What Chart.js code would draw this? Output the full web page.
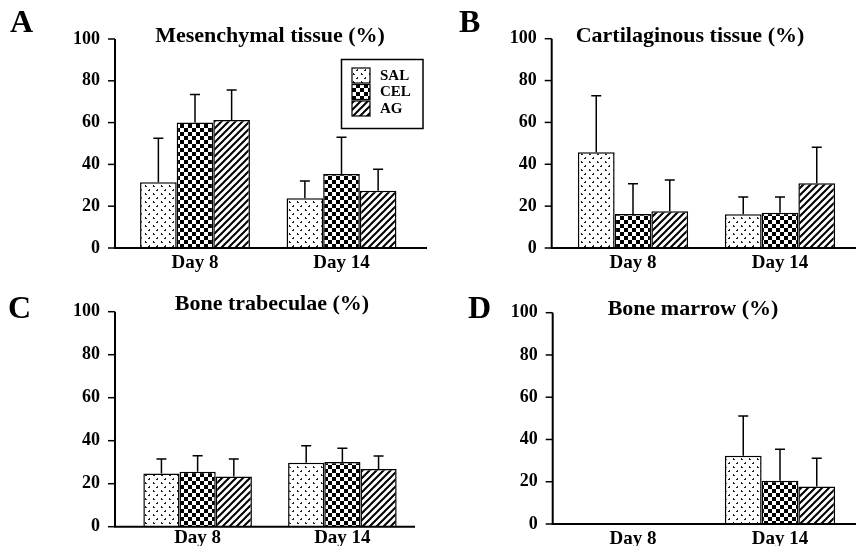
<!DOCTYPE html>
<html>
<head>
<meta charset="utf-8">
<script src="https://cdn.jsdelivr.net/npm/chart.js@4.4.0/dist/chart.umd.min.js"></script>
<style>
  body { margin: 0; background: #fff; }
  #wrap { position: relative; width: 856px; height: 546px; }
  #wrap canvas { position: absolute; }
</style>
</head>
<body>
<div id="wrap">
  <canvas id="chartA" width="428" height="273" style="left:0;top:0"></canvas>
  <canvas id="chartB" width="428" height="273" style="left:428px;top:0"></canvas>
  <canvas id="chartC" width="428" height="273" style="left:0;top:273px"></canvas>
  <canvas id="chartD" width="428" height="273" style="left:428px;top:273px"></canvas>
</div>
<script>
var categories = ['Day 8', 'Day 14'];
var seriesNames = ['SAL', 'CEL', 'AG'];
var yTicks = [0, 20, 40, 60, 80, 100];

// A - mesenchymal tissue
var mesSAL = [31.4, 23.8], mesSALerr = [21.1, 8.3];
var mesCEL = [60.1, 35.4], mesCELerr = [13.4, 17.6];
var mesAG = [61.2, 27.4], mesAGerr = [14.4, 10.3];
// B - cartilaginous tissue
var carSAL = [45.7, 16.1], carSALerr = [27.1, 8.3];
var carCEL = [16.2, 16.9], carCELerr = [14.5, 7.5];
var carAG = [17.5, 30.9], carAGerr = [15.0, 17.2];
// C - bone trabeculae
var traSAL = [24.8, 29.8], traSALerr = [6.7, 7.9];
var traCEL = [25.6, 30.1], traCELerr = [7.4, 6.4];
var traAG = [23.3, 26.8], traAGerr = [8.2, 6.1];
// D - bone marrow (nothing on day 8)
var marSAL = [null, 32.3], marSALerr = [0, 18.8];
var marCEL = [null, 20.5], marCELerr = [0, 14.9];
var marAG = [null, 17.7], marAGerr = [0, 13.4];

var serif = "'Liberation Serif', 'Times New Roman', serif";

var panels = [
  { id: 'chartA', letter: 'A', title: 'Mesenchymal tissue (%)', values: [mesSAL, mesCEL, mesAG], errs: [mesSALerr, mesCELerr, mesAGerr],
    legend: true, axisX: 115, xEnd: 427, area: [121.75, 414.75, 39, 248], titleX: 270, titleY: 36, letterX: 10, letterY: 24, labelPad: 3.5 },
  { id: 'chartB', letter: 'B', title: 'Cartilaginous tissue (%)', values: [carSAL, carCEL, carAG], errs: [carSALerr, carCELerr, carAGerr],
    legend: false, axisX: 123.7, xEnd: 428, area: [131.5, 425.5, 38.7, 248], titleX: 262, titleY: 36, letterX: 31, letterY: 24, labelPad: 3.5 },
  { id: 'chartC', letter: 'C', title: 'Bone trabeculae (%)', values: [traSAL, traCEL, traAG], errs: [traSALerr, traCELerr, traAGerr],
    legend: false, axisX: 115, xEnd: 415, area: [125.25, 414.75, 38.7, 253.7], titleX: 272, titleY: 31, letterX: 8, letterY: 37, labelPad: 0 },
  { id: 'chartD', letter: 'D', title: 'Bone marrow (%)', values: [marSAL, marCEL, marAG], errs: [marSALerr, marCELerr, marAGerr],
    legend: false, axisX: 124.7, xEnd: 428, area: [131.5, 425.5, 39.7, 251], titleX: 265, titleY: 36, letterX: 40, letterY: 37, labelPad: 3.5 }
];

function tile(w, h, draw) {
  var c = document.createElement('canvas');
  c.width = w; c.height = h;
  var g = c.getContext('2d');
  g.fillStyle = '#fff';
  g.fillRect(0, 0, w, h);
  draw(g);
  return c;
}

function makePatterns(ctx) {
  var dots = tile(8, 8, function (g) {
    g.fillStyle = '#222';
    g.fillRect(1, 1, 1, 2);
    g.fillRect(2, 2, 1, 1);
    g.fillRect(5, 5, 1, 2);
    g.fillRect(4, 6, 1, 1);
  });
  var checker = tile(8, 8, function (g) {
    g.fillStyle = '#000';
    g.fillRect(0, 0, 4, 4);
    g.fillRect(4, 4, 4, 4);
  });
  var hatch = tile(7, 7, function (g) {
    g.strokeStyle = '#000';
    g.lineWidth = 2;
    g.beginPath();
    g.moveTo(-1, 8); g.lineTo(8, -1);
    g.moveTo(-1, 1); g.lineTo(1, -1);
    g.moveTo(6, 8); g.lineTo(8, 6);
    g.stroke();
  });
  return [ctx.createPattern(dots, 'repeat'), ctx.createPattern(checker, 'repeat'), ctx.createPattern(hatch, 'repeat')];
}

var panelPlugin = {
  id: 'panel',
  afterDatasetsDraw: function (chart, args, p) {
    var ctx = chart.ctx;
    var y = chart.scales.y;
    ctx.save();
    ctx.strokeStyle = '#000';
    ctx.lineWidth = 1.5;
    chart.data.datasets.forEach(function (ds, i) {
      var meta = chart.getDatasetMeta(i);
      meta.data.forEach(function (bar, j) {
        var v = ds.data[j];
        if (v == null || !ds.err[j]) return;
        var top = y.getPixelForValue(v + ds.err[j]);
        ctx.beginPath();
        ctx.moveTo(bar.x, bar.y);
        ctx.lineTo(bar.x, top);
        ctx.moveTo(bar.x - 5, top);
        ctx.lineTo(bar.x + 5, top);
        ctx.stroke();
      });
    });
    ctx.restore();
  },
  afterDraw: function (chart, args, p) {
    var ctx = chart.ctx;
    var y = chart.scales.y;
    var y0 = y.getPixelForValue(0);
    ctx.save();
    ctx.strokeStyle = '#000';
    ctx.lineWidth = 2;
    ctx.beginPath();
    ctx.moveTo(p.axisX, y.getPixelForValue(100));
    ctx.lineTo(p.axisX, y0);
    ctx.lineTo(p.xEnd, y0);
    ctx.stroke();
    ctx.lineWidth = 1.5;
    yTicks.forEach(function (t) {
      var py = y.getPixelForValue(t);
      ctx.beginPath();
      ctx.moveTo(p.axisX - 7, py);
      ctx.lineTo(p.axisX, py);
      ctx.stroke();
    });

    ctx.fillStyle = '#000';
    ctx.textBaseline = 'middle';
    ctx.textAlign = 'center';
    ctx.font = 'bold 22px ' + serif;
    ctx.fillText(p.title, p.titleX, p.titleY);
    ctx.textAlign = 'left';
    ctx.font = 'bold 32px ' + serif;
    ctx.fillText(p.letter, p.letterX, p.letterY);

    if (p.legend) {
      ctx.lineWidth = 1.5;
      ctx.strokeRect(341.5, 59.5, 81.5, 69);
      ctx.font = 'bold 15px ' + serif;
      chart.data.datasets.forEach(function (ds, i) {
        var sy = 68 + i * 16.5;
        ctx.fillStyle = ds.backgroundColor;
        ctx.fillRect(352, sy, 18, 15);
        ctx.lineWidth = 1.2;
        ctx.strokeRect(352, sy, 18, 15);
        ctx.fillStyle = '#000';
        ctx.fillText(ds.label, 380, sy + 8);
      });
    }
    ctx.restore();
  }
};

Chart.defaults.color = '#000';

panels.forEach(function (p) {
  var ctx = document.getElementById(p.id).getContext('2d');
  var patterns = makePatterns(ctx);
  new Chart(ctx, {
    type: 'bar',
    data: {
      labels: categories,
      datasets: seriesNames.map(function (name, i) {
        return {
          label: name,
          data: p.values[i],
          err: p.errs[i],
          backgroundColor: patterns[i],
          borderColor: '#000',
          borderWidth: 1.5,
          borderSkipped: 'bottom',
          barPercentage: 1,
          categoryPercentage: 0.75
        };
      })
    },
    options: {
      responsive: false,
      animation: false,
      devicePixelRatio: 1,
      layout: { padding: { left: 0, right: 428 - p.area[1], top: p.area[2], bottom: 0 } },
      plugins: {
        legend: { display: false },
        title: { display: false },
        tooltip: { enabled: false },
        panel: p
      },
      scales: {
        x: {
          grid: { display: false, drawTicks: false, tickLength: 0 },
          border: { display: false },
          ticks: { padding: p.labelPad, font: { family: serif, weight: 'bold', size: 19 } },
          afterFit: function (s) { s.height = 273 - p.area[3]; }
        },
        y: {
          min: 0,
          max: 100,
          // gap between labels and chart area goes through tickLength, not ticks.padding
          grid: { display: false, drawTicks: true, tickLength: p.area[0] - p.axisX + 15 },
          border: { display: false },
          ticks: { stepSize: 20, padding: 0, font: { family: serif, weight: 'bold', size: 18 } },
          afterFit: function (s) { s.width = p.area[0]; }
        }
      }
    },
    plugins: [panelPlugin]
  });
});
</script>
</body>
</html>
